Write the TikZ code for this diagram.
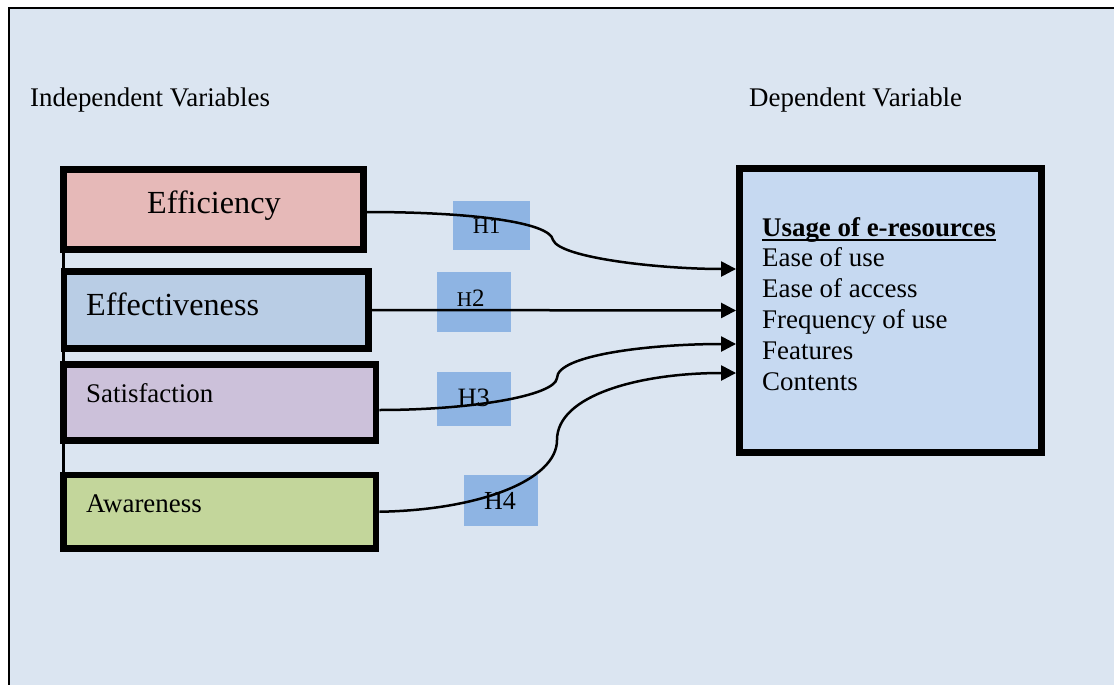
\documentclass[tikz,border=0pt]{standalone}
\usepackage{fontspec}
\setmainfont{Liberation Serif}
\usetikzlibrary{arrows.meta,calc}
\definecolor{bgc}{HTML}{DBE5F1}
\definecolor{effc}{HTML}{E6B9B8}
\definecolor{evc}{HTML}{B9CDE5}
\definecolor{satc}{HTML}{CCC1DA}
\definecolor{awc}{HTML}{C3D69B}
\definecolor{hc}{HTML}{8EB4E3}
\definecolor{depc}{HTML}{C6D9F1}
\tikzset{
  varbox/.style={draw=black,line width=6.5pt,rectangle,inner sep=0pt},
  hbox/.style={fill=hc,rectangle,inner sep=0pt,draw=none},
  txt/.style={inner sep=0pt,anchor=base west,font=\fontsize{26.9}{30}\selectfont},
  bigtxt/.style={inner sep=0pt,anchor=base west,font=\fontsize{32.2}{36}\selectfont},
  link/.style={line width=2.5pt,-{Triangle[length=15pt,width=15pt]}},
}
\begin{document}
\begin{tikzpicture}[x=1pt,y=-1pt]
\useasboundingbox (0,0) rectangle (1114,685);
\fill[white] (0,0) rectangle (1114,685);
\draw[line width=1.5pt,fill=bgc] (9,8) rectangle (1130,700);

\node[txt] (indep) at (30,106.5) {Independent Variables};
\node[txt] (depl) at (749,106.5) {Dependent Variable};

% left boxes
\node[varbox,fill=effc,minimum width=300.2pt,minimum height=80.2pt] (eff) at (213.4,209.4) {};
\node[varbox,fill=evc,minimum width=304.5pt,minimum height=77pt] (efv) at (216.25,310) {};
\node[varbox,fill=satc,minimum width=312.7pt,minimum height=76.4pt] (sat) at (219.7,402.5) {};
\node[varbox,fill=awc,minimum width=312.7pt,minimum height=73.5pt] (awa) at (219.7,511.75) {};
\draw[line width=3pt] (eff.south west) ++(3.2pt,0) coordinate (vtop) -- (vtop |- awa.north) coordinate (vbot);

\node[bigtxt] (teff) at (147,213.5) {Efficiency};
\node[bigtxt] (tefv) at (86,315.5) {Effectiveness};
\node[txt] (tsat) at (86,402.5) {Satisfaction};
\node[txt] (tawa) at (86,512.5) {Awareness};

% right box
\node[varbox,fill=depc,minimum width=302.4pt,minimum height=284.4pt] (dep) at (890.5,310.5) {};
\node[txt,font=\fontsize{26.9}{30}\selectfont\bfseries] (u0) at (762,236.5) {Usage of e-resources};
\draw[line width=2pt] ($(u0.base west)+(0,3)$) -- ($(u0.base east)+(0,3)$);
\node[txt] (u1) at (762,266.5) {Ease of use};
\node[txt] (u2) at (762,297.5) {Ease of access};
\node[txt] (u3) at (762,328.5) {Frequency of use};
\node[txt] (u4) at (762,359) {Features};
\node[txt] (u5) at (762,390) {Contents};

% hypothesis boxes
\node[hbox,minimum width=77pt,minimum height=49pt] (h1) at (491.5,225.5) {};
\node[hbox,minimum width=74pt,minimum height=59.7pt] (h2) at (474,301.85) {};
\node[hbox,minimum width=74pt,minimum height=53.7pt] (h3) at (474,398.85) {};
\node[hbox,minimum width=74pt,minimum height=50.7pt] (h4) at (501,500.35) {};
\node[inner sep=0pt,anchor=base west,font=\fontsize{22.5}{26}\selectfont] (th1) at (472.7,233) {H1};
\node[inner sep=0pt,anchor=base west,font=\fontsize{25}{28}\selectfont] (th2) at (456.7,306.7) {{\fontsize{21}{24}\selectfont H}2};
\node[inner sep=0pt,anchor=base west,font=\fontsize{26.5}{30}\selectfont] (th3) at (457.3,406) {H3};
\node[inner sep=0pt,anchor=base west,font=\fontsize{26}{30}\selectfont] (th4) at (484,509.3) {H4};

% connectors
\coordinate (m1) at (553,240);
\coordinate (m3) at (557,378);
\coordinate (m4) at (557,440);
\coordinate (s1) at ($(eff.east)+(0,2.6)$);
\coordinate (s3) at ($(sat.east)+(0,7.5)$);
\coordinate (e1) at ($(dep.west)+(0,-41.5)$);
\coordinate (e3) at ($(dep.west)+(0,33.5)$);
\coordinate (e4) at ($(dep.west)+(0,62.5)$);
\draw[link] (s1) .. controls (470,212) and (550,222) .. (m1) .. controls (560,258) and (660,269) .. (e1);
\draw[link] ($(efv.east)+(-5,0)$) -- (dep.west);
\draw[link] (s3) .. controls (470,410) and (555,396) .. (m3) .. controls (557,355) and (650,344) .. (e3);
\draw[link] (awa.east) .. controls (480,510) and (557,480) .. (m4) .. controls (557,395) and (640,373) .. (e4);
\end{tikzpicture}
\end{document}
